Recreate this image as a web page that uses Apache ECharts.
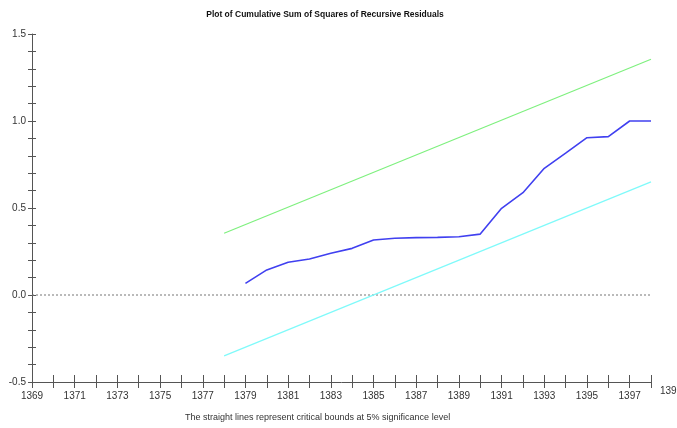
<!DOCTYPE html>
<html>
<head>
<meta charset="utf-8">
<script src="https://cdn.jsdelivr.net/npm/echarts@6/dist/echarts.min.js"></script>
<style>
html, body { margin: 0; padding: 0; background: #fff; }
#main { width: 677px; height: 428px; }
</style>
</head>
<body>
<div id="main"></div>
<script>
// 数据 ----------------------
var years = [1379, 1380, 1381, 1382, 1383, 1384, 1385, 1386, 1387, 1388, 1389, 1390, 1391, 1392, 1393, 1394, 1395, 1396, 1397, 1398];
var cusumSq = [0.067, 0.144, 0.188, 0.207, 0.240, 0.268, 0.316, 0.326, 0.330, 0.331, 0.335, 0.350, 0.498, 0.588, 0.728, 0.815, 0.904, 0.910, 1.000, 1.000];
// 5% 临界线 (两端点)
var boundYears = [1378, 1398];
var upperBound = [0.355, 1.355];
var lowerBound = [-0.350, 0.650];
var zeroYears = [1369, 1398];
var zeroLine = [0, 0];
var lastTickLabel = '1399';

function pairs(xs, ys) {
    var out = [];
    for (var i = 0; i < xs.length; i++) {
        out.push([xs[i], ys[i]]);
    }
    return out;
}

var axisColor = '#555';
var labelStyle = { color: '#333', fontSize: 10, fontFamily: 'Liberation Sans, Arial, sans-serif' };

var chart = echarts.init(document.getElementById('main'));
var option = {
    backgroundColor: '#fff',
    animation: false,
    title: {
        text: 'Plot of Cumulative Sum of Squares of Recursive Residuals',
        left: 320, top: 5, textAlign: 'center',
        textStyle: { fontSize: 8.5, fontWeight: 'bold', color: '#111', fontFamily: 'Liberation Sans, Arial, sans-serif' }
    },
    grid: { left: 32, right: 26, top: 34, bottom: 46 },
    xAxis: [{
        type: 'value', position: 'bottom', min: 1369, max: 1398, interval: 1,
        axisLine: { onZero: false, lineStyle: { color: axisColor } },
        axisTick: { length: 6, lineStyle: { color: axisColor } },
        splitLine: { show: false },
        axisLabel: {
            margin: 9,
            color: labelStyle.color, fontSize: labelStyle.fontSize, fontFamily: labelStyle.fontFamily,
            formatter: function (v) { return (v % 2 === 1) ? String(v) : ''; }
        }
    }, {
        type: 'value', position: 'bottom', min: 1369, max: 1398, interval: 1,
        axisLine: { show: false, onZero: false },
        axisTick: { inside: true, length: 7, lineStyle: { color: axisColor } },
        axisLabel: { show: false },
        splitLine: { show: false }
    }],
    yAxis: [{
        type: 'value', position: 'left', min: -0.5, max: 1.5, interval: 0.1,
        axisLine: { show: true, onZero: false, lineStyle: { color: axisColor } },
        axisTick: { show: true, length: 4, lineStyle: { color: axisColor } },
        splitLine: { show: false },
        axisLabel: {
            margin: 6,
            color: labelStyle.color, fontSize: labelStyle.fontSize, fontFamily: labelStyle.fontFamily,
            formatter: function (v) {
                var r = Math.round(v * 10);
                return (r % 5 === 0) ? (r / 10).toFixed(1) : '';
            }
        }
    }, {
        type: 'value', position: 'left', min: -0.5, max: 1.5, interval: 0.1,
        axisLine: { show: false, onZero: false },
        axisTick: { show: true, inside: true, length: 4, lineStyle: { color: axisColor } },
        axisLabel: { show: false },
        splitLine: { show: false }
    }],
    graphic: [{
        type: 'text', left: 660, top: 386,
        style: { text: lastTickLabel, fill: '#333', fontSize: 10, fontFamily: 'Liberation Sans, Arial, sans-serif' }
    }, {
        type: 'text', left: 185, top: 413,
        style: { text: 'The straight lines represent critical bounds at 5% significance level', fill: '#333', fontSize: 9, fontFamily: 'Liberation Sans, Arial, sans-serif' }
    }],
    series: [{
        type: 'line', name: 'zero', data: pairs(zeroYears, zeroLine),
        symbol: 'none', silent: true,
        lineStyle: { color: '#777', width: 1, type: [2, 2] }
    }, {
        type: 'line', name: 'upper', data: pairs(boundYears, upperBound),
        symbol: 'none', lineStyle: { color: '#7ef07e', width: 1.2 }
    }, {
        type: 'line', name: 'lower', data: pairs(boundYears, lowerBound),
        symbol: 'none', lineStyle: { color: '#7ffafa', width: 1.2 }
    }, {
        type: 'line', name: 'CUSUM of squares', data: pairs(years, cusumSq),
        symbol: 'none', lineStyle: { color: '#4040f0', width: 1.6 }
    }]
};
chart.setOption(option);
</script>
</body>
</html>
